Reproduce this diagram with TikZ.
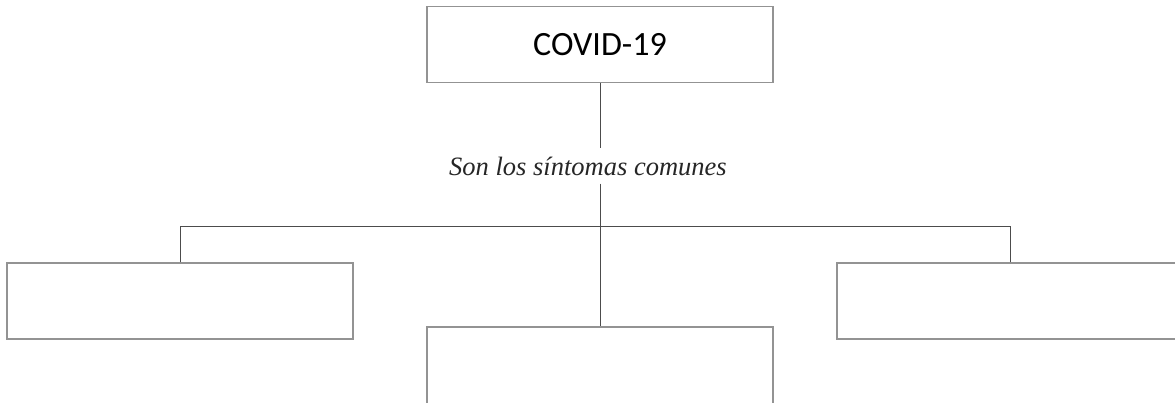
\documentclass[tikz,border=0pt]{standalone}
\usepackage{fontspec}
\setmainfont{Liberation Serif}
\newfontfamily\boxfont{Carlito}
\usepackage{tikz}

\begin{document}
\begin{tikzpicture}[x=1pt,y=-1pt]
\useasboundingbox (0,0) rectangle (1175,402);
\clip (0,0) rectangle (1175,402);

\coordinate (C_top) at (600, 44.5);
\coordinate (C_lab) at (588, 166);
\coordinate (C_left) at (180, 301);
\coordinate (C_mid) at (600, 370);
\coordinate (C_right) at (1010, 301);
\coordinate (J) at (600, 226);


\tikzset{BoxStyle/.style = {
 shape = rectangle,
 draw = gray!85,
 line width = 1.5pt,
 fill = white,
 minimum width = 346pt,
 minimum height = 76pt,
 inner sep = 0pt,
 font = \boxfont\fontsize{34}{40}\selectfont} }

\node[BoxStyle] (Top) at (C_top) {COVID-19};
\node[BoxStyle] (Left) at (C_left) {};
\node[BoxStyle, minimum height = 86pt] (Mid) at (C_mid) {};
\node[BoxStyle] (Right) at (C_right) {};
\node[inner ysep = 8pt, text = black!85, font = \itshape\fontsize{26.5}{30}\selectfont] (Lab) at (C_lab) {Son los síntomas comunes};


\tikzset{EdgeStyle/.style = {line width = 1pt, draw = black!70} }

\draw[EdgeStyle] (Top.south) -- (Lab.north -| Top.south);
\draw[EdgeStyle] (Lab.south -| Mid.north) -- (Mid.north);
\draw[EdgeStyle] (Left.north) |- (J);
\draw[EdgeStyle] (Right.north) |- (J);

\end{tikzpicture}
\end{document}
